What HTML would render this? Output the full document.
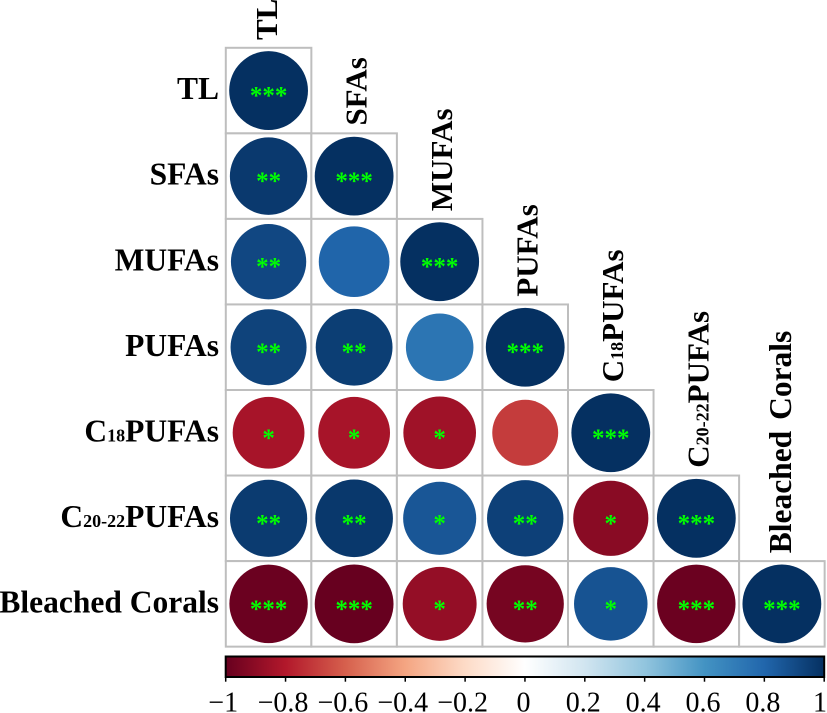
<!DOCTYPE html>
<html lang="en">
<head>
<meta charset="utf-8">
<title>Correlation matrix</title>
<style>
html,body{margin:0;padding:0;background:#fff;width:827px;height:713px;overflow:hidden}
svg{display:block;position:absolute;left:0;top:0}
text{font-family:"Liberation Serif",serif;fill:#000}
</style>
</head>
<body>
<svg id="chart" width="827" height="713" viewBox="0 0 827 713" xmlns="http://www.w3.org/2000/svg">
<defs><linearGradient id="cbGrad" x1="0" x2="1" y1="0" y2="0"></linearGradient></defs>
</svg>
<script>
const categories = [
  ["TL"],
  ["SFAs"],
  ["MUFAs"],
  ["PUFAs"],
  ["C", "18", "PUFAs"],
  ["C", "20-22", "PUFAs"],
  ["Bleached Corals"]
];
const rowTL = [1];
const rowSFAs = [0.965, 1];
const rowMUFAs = [0.913, 0.805, 1];
const rowPUFAs = [0.93, 0.95, 0.735, 1];
const rowC18 = [-0.83, -0.83, -0.85, -0.70, 1];
const rowC20 = [0.96, 0.97, 0.86, 0.94, -0.91, 1];
const rowBleached = [-0.99, -1, -0.88, -0.96, 0.87, -0.99, 1];
const correlations = [rowTL, rowSFAs, rowMUFAs, rowPUFAs, rowC18, rowC20, rowBleached];
const sigTL = ["***"];
const sigSFAs = ["**", "***"];
const sigMUFAs = ["**", "", "***"];
const sigPUFAs = ["**", "**", "", "***"];
const sigC18 = ["*", "*", "*", "", "***"];
const sigC20 = ["**", "**", "*", "**", "*", "***"];
const sigBleached = ["***", "***", "*", "**", "*", "***", "***"];
const significance = [sigTL, sigSFAs, sigMUFAs, sigPUFAs, sigC18, sigC20, sigBleached];
const colorbarTicks = [-1, -0.8, -0.6, -0.4, -0.2, 0, 0.2, 0.4, 0.6, 0.8, 1];
const colorbarLabels = ["\u22121", "\u22120.8", "\u22120.6", "\u22120.4", "\u22120.2", "0", "0.2", "0.4", "0.6", "0.8", "1"];
const palette = ["#67001F", "#B2182B", "#D6604D", "#F4A582", "#FDDBC7", "#FFFFFF", "#D1E5F0", "#92C5DE", "#4393C3", "#2166AC", "#053061"];

const NS = "http://www.w3.org/2000/svg";
const svg = document.getElementById("chart");
const gridLeft = 225.8, gridTop = 47.8, cellSize = 85.55, maxRadius = 39.4;
const cbLeft = 225.7, cbRight = 824.2, cbTop = 656.5, cbBottom = 677;

function xScale(col) { return gridLeft + col * cellSize; }
function yScale(row) { return gridTop + row * cellSize; }
function radiusScale(v) { return maxRadius * Math.sqrt(Math.abs(v)); }
function cbScale(v) { return cbLeft + (v + 1) / 2 * (cbRight - cbLeft); }
function hexToRgb(h) { return [1, 3, 5].map(function (i) { return parseInt(h.substr(i, 2), 16); }); }
function colorScale(v) {
  const t = Math.max(0, Math.min(1, (v + 1) / 2)) * (palette.length - 1);
  const i = Math.min(palette.length - 2, Math.floor(t));
  const a = hexToRgb(palette[i]), b = hexToRgb(palette[i + 1]), f = t - i;
  const c = a.map(function (x, k) { return Math.round(x + (b[k] - x) * f); });
  return "rgb(" + c.join(",") + ")";
}
function columnLabelNudge(i) { return i === 0 ? 8.2 : (i === categories.length - 1 ? 9 : 12.4); }
function columnLabelSize(parts) { return parts[0].indexOf(" ") > 0 ? 31.5 : 31; }
function make(tag, attrs, parent) {
  const el = document.createElementNS(NS, tag);
  for (const k in attrs) el.setAttribute(k, attrs[k]);
  (parent || svg).appendChild(el);
  return el;
}
function fillLabel(textEl, parts) {
  if (parts.length === 1) { textEl.textContent = parts[0]; return; }
  parts.forEach(function (p, i) {
    const s = make("tspan", i === 1 ? { "font-size": "18", "font-weight": "bold" } : {}, textEl);
    s.textContent = p;
  });
}

const gridGroup = make("g", {});



correlations.forEach(function (row, r) {
  row.forEach(function (v, c) {
    const cell = make("rect", { x: xScale(c), y: yScale(r), width: cellSize, height: cellSize, fill: "#fff", stroke: "#bebebe", "stroke-width": 2 }, gridGroup);
    
    
  });
});
correlations.forEach(function (row, r) {
  row.forEach(function (v, c) {
    const cx = xScale(c) + cellSize / 2, cy = yScale(r) + cellSize / 2;
    const dot = make("circle", { cx: cx, cy: cy, r: radiusScale(v), fill: colorScale(v) }, gridGroup);
    
    
    const stars = significance[r][c];
    if (stars) {
      const t = make("text", { x: cx, y: cy + 13, "text-anchor": "middle", "font-size": "25", "font-weight": "bold", style: "fill:#00ff00;font-family:'Liberation Serif',serif" }, gridGroup);
      t.textContent = stars;
      
      
    }
  });
});

categories.forEach(function (parts, i) {
  const rowLabel = make("text", { x: 219, y: yScale(i) + cellSize / 2 + 8.6, "text-anchor": "end", "font-size": 31.5, "font-weight": "bold" });
  fillLabel(rowLabel, parts);
  
  
  const px = xScale(i) + cellSize / 2 + columnLabelNudge(i), py = yScale(i) - 7.8;
  const colLabel = make("text", { x: px, y: py, "font-size": columnLabelSize(parts), "font-weight": "bold", "word-spacing": "3", transform: "rotate(-90 " + px + " " + py + ")" });
  fillLabel(colLabel, parts);
  
  
});

const grad = document.getElementById("cbGrad");
palette.forEach(function (col, i) {
  make("stop", { offset: (i / (palette.length - 1) * 100) + "%", "stop-color": col }, grad);
});
const cbGroup = make("g", {});


const cbRect = make("rect", { x: cbLeft, y: cbTop, width: cbRight - cbLeft, height: cbBottom - cbTop, fill: "url(#cbGrad)", stroke: "#000", "stroke-width": 2 }, cbGroup);


colorbarTicks.forEach(function (v, i) {
  const x = cbScale(v);
  const tick = make("line", { x1: x, x2: x, y1: cbBottom, y2: 681.7, stroke: "#000", "stroke-width": 1.5 }, cbGroup);
  
  
  const isLast = i === colorbarTicks.length - 1;
  const tx = isLast ? 827 : x - (v < 0 ? 2.5 : 1.5);
  const label = make("text", { x: tx, y: 711.5, "text-anchor": isLast ? "end" : "middle", "font-size": "28" }, cbGroup);
  label.textContent = colorbarLabels[i];
  
  
});
</script>
</body>
</html>
